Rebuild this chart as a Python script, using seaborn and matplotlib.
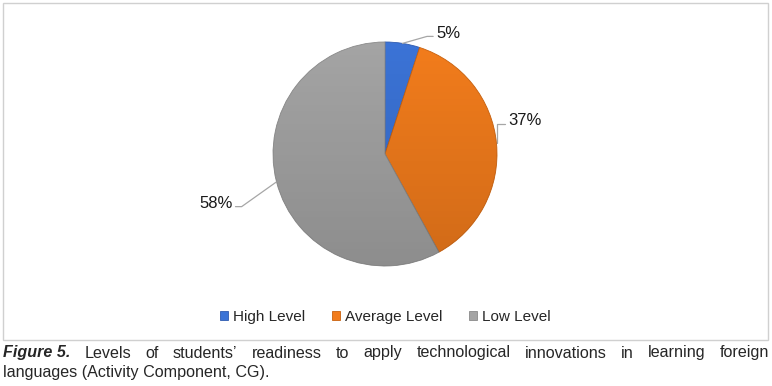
import matplotlib
matplotlib.use('Agg')
import matplotlib.pyplot as plt
import seaborn as sns
import numpy as np
from matplotlib.patches import Rectangle, Circle

# данные
categories = ['High Level', 'Average Level', 'Low Level']
values = [5, 37, 58]
colors = ['#3b73d6', '#f27c1c', '#a4a4a4']
edge_colors = ['#2f5bb0', '#c9620f', '#8a8a8a']

sns.set_theme(style='white')
plt.rcParams['font.family'] = ['Liberation Sans', 'DejaVu Sans']

fig = plt.figure(figsize=(7.72, 3.86), dpi=100)

# рамка области диаграммы
fig.patches.append(Rectangle((3 / 772, 1 - 340 / 386), 765 / 772, 337 / 386,
                             transform=fig.transFigure, fill=False,
                             edgecolor='#d0d0d0', linewidth=1))

ax = fig.add_axes([(385 - 112) / 772, (386 - 266) / 386, 224 / 772, 224 / 386])
wedges, _ = ax.pie(values, colors=colors, startangle=90, counterclock=False,
                   radius=1, wedgeprops=dict(linewidth=0.6))
for w, ec in zip(wedges, edge_colors):
    w.set_edgecolor(ec)

# лёгкий градиент сверху вниз
grad = np.linspace(0, 1, 256).reshape(-1, 1)
rgba = np.zeros((256, 1, 4))
rgba[..., 3] = 0.14 * grad
im = ax.imshow(rgba, extent=(-1, 1, -1, 1), origin='upper', aspect='auto', zorder=3)
im.set_clip_path(Circle((0, 0), 1, transform=ax.transData))

ax.set_xlim(-1, 1)
ax.set_ylim(-1, 1)
ax.set_aspect('equal')
ax.axis('off')

# подписи с выносками
label_pos = [(0.455, 1.08), (1.10, 0.295), (-1.36, -0.44)]
total = sum(values)
start = 90.0
for w, v, (lx, ly) in zip(wedges, values, label_pos):
    ang = np.deg2rad(start - v / total * 360 / 2)
    start -= v / total * 360
    ex, ey = np.cos(ang), np.sin(ang)
    ha = 'left' if lx > 0 else 'right'
    if v == 37:
        knee_x = 1.0
        ey = 0.10
        ex = 1.0
    else:
        knee_x = lx - 0.08 if lx > 0 else lx + 0.08
    end_x = lx - 0.025 if lx > 0 else lx + 0.025
    ax.plot([ex, knee_x, end_x], [ey, ly - 0.03, ly - 0.03],
            color='#a6a6a6', lw=0.9, clip_on=False)
    ax.text(lx, ly, f'{v}%', ha=ha, va='center', fontsize=12, color='#1a1a1a')

# легенда
handles = [plt.Rectangle((0, 0), 1, 1, facecolor=c, edgecolor=e, lw=0.6)
           for c, e in zip(colors, edge_colors)]
fig.legend(handles, categories, loc='center', bbox_to_anchor=(385 / 772, 1 - 317 / 386),
           ncol=3, frameon=False, fontsize=11, handlelength=0.55, handleheight=0.55,
           handletextpad=0.3, columnspacing=1.75)

# подпись рисунка, выровненная по ширине
cap_font = ['Liberation Sans Narrow', 'Liberation Sans', 'DejaVu Sans']
line1 = [('Figure 5.', 'bold'), ('Levels', 'normal'), ('of', 'normal'), ('students\u2019', 'normal'),
         ('readiness', 'normal'), ('to', 'normal'), ('apply', 'normal'), ('technological', 'normal'),
         ('innovations', 'normal'), ('in', 'normal'), ('learning', 'normal'), ('foreign', 'normal')]
fig.canvas.draw()
renderer = fig.canvas.get_renderer()
texts = []
x0, x1 = 3 / 772, 769 / 772
y1 = 1 - 353 / 386
for word, wt in line1:
    t = fig.text(0, y1, word, fontsize=11.6, family=cap_font, weight=wt,
                 style='italic' if wt == 'bold' else 'normal', va='center', ha='left')
    texts.append(t)
widths = [t.get_window_extent(renderer).width / fig.bbox.width for t in texts]
gap = (x1 - x0 - sum(widths)) / (len(texts) - 1)
x = x0
for t, wdt in zip(texts, widths):
    t.set_x(x)
    x += wdt + gap
fig.text(x0, 1 - 373 / 386, 'languages (Activity Component, CG).', fontsize=11.6,
         family=cap_font, va='center', ha='left')

fig.savefig('out.png', dpi=100)
